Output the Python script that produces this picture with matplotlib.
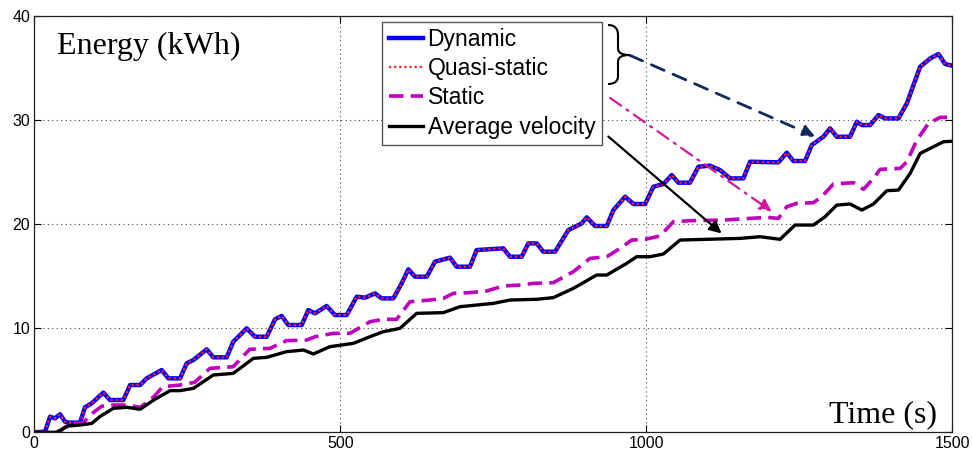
import matplotlib
matplotlib.use('Agg')
import matplotlib.pyplot as plt
from matplotlib.path import Path
from matplotlib.patches import PathPatch

# Energy (kWh) vs time (s)
dyn_t = [0, 17.5, 25.7, 33.8, 42.0, 50.2, 55.6, 74.7, 82.8, 93.7, 112.8, 123.7, 145.5,
         156.4, 172.7, 183.6, 208.1, 219.0, 238.1, 249.0, 259.9, 281.7, 292.5, 314.3,
         325.2, 347.0, 360.6, 379.7, 393.3, 404.2, 415.1, 436.9, 447.8, 458.7, 477.7,
         491.3, 510.4, 526.8, 540.4, 556.7, 567.6, 586.7, 600.3, 611.2, 622.1, 641.2,
         654.7, 679.3, 690.1, 711.9, 722.8, 766.4, 777.3, 796.4, 807.3, 820.9, 831.8,
         850.9, 872.7, 894.5, 902.7, 916.3, 935.4, 946.3, 965.4, 979.0, 998.1, 1011.6,
         1028.0, 1041.6, 1052.4, 1071.5, 1085.1, 1104.2, 1120.5, 1136.9, 1158.7, 1169.6,
         1215.9, 1229.5, 1240.4, 1259.5, 1270.4, 1289.4, 1300.3, 1311.3, 1333.0, 1344.0,
         1352.2, 1365.8, 1379.4, 1390.3, 1412.1, 1425.8, 1447.5, 1463.9, 1477.5, 1488.4,
         1500]
dyn_e = [0, 0.06, 1.50, 1.34, 1.73, 1.02, 0.93, 0.93, 2.40, 2.78, 3.81, 3.10, 3.10,
         4.54, 4.54, 5.18, 5.98, 5.18, 5.18, 6.62, 6.94, 7.97, 7.20, 7.20,
         8.70, 9.98, 9.18, 9.18, 10.85, 11.17, 10.30, 10.30, 11.74, 11.42, 12.13,
         11.26, 11.26, 13.02, 12.93, 13.34, 12.86, 12.86, 14.30, 15.65, 14.94, 14.94,
         16.38, 16.77, 15.90, 15.90, 17.50, 17.66, 16.86, 16.86, 18.14, 18.14, 17.34,
         17.34, 19.42, 20.06, 20.64, 19.81, 19.81, 21.34, 22.62, 21.92, 21.92, 23.58,
         23.84, 24.70, 23.97, 23.97, 25.50, 25.60, 25.18, 24.38, 24.38, 25.98,
         25.92, 26.85, 26.05, 26.05, 27.58, 28.38, 29.18, 28.38, 28.38, 29.82,
         29.50, 29.50, 30.46, 30.14, 30.14, 31.58, 35.10, 35.90, 36.32, 35.36,
         35.20]
# quasi-static lies on top of the dynamic curve
quasi_t = dyn_t
quasi_e = dyn_e

stat_t = [0, 30, 40, 50, 60, 80, 92, 110, 124, 150, 173, 195, 210, 238, 262, 287, 325,
          352, 385, 412, 445, 459, 488.6, 515.8, 548.5, 570.3, 592.1, 613.9, 646.6,
          668.4, 684.7, 711.9, 739.2, 766.4, 793.6, 815.4, 848.1, 880.8, 908.0, 935.4,
          957.2, 976.3, 998.1, 1022.5, 1044.3, 1071.5, 1126.0, 1169.6, 1196.9, 1215.9,
          1229.5, 1245.9, 1273.1, 1286.7, 1305.8, 1338.5, 1354.9, 1371.2, 1382.2,
          1414.9, 1425.8, 1442.1, 1461.1, 1480.2, 1500]
stat_e = [0, 0, -0.05, 0.5, 0.8, 0.9, 1.7, 2.5, 2.62, 2.62, 2.40, 3.4, 4.38, 4.54, 4.8,
          6.14, 6.30, 7.97, 8.06, 8.80, 8.86, 9.18, 9.50, 9.50, 10.62, 10.85, 10.85,
          12.54, 12.70, 12.86, 13.34, 13.41, 13.57, 14.05, 14.14, 14.30, 14.37, 15.42,
          16.70, 16.86, 17.66, 18.46, 18.53, 18.85, 20.22, 20.32, 20.38, 20.54, 20.64,
          20.54, 21.66, 21.98, 22.05, 22.62, 23.84, 23.97, 23.33, 24.38, 25.25,
          25.34, 25.98, 28.06, 29.66, 30.24, 30.24]

avg_t = [0, 36, 55, 75, 94, 107, 129, 151, 173, 195, 222, 238, 260, 292.5, 325, 358,
         380, 412, 440, 456, 483, 521.3, 548.5, 570.3, 597.5, 624.8, 668.4, 695.6,
         750.1, 777.3, 820.9, 848.1, 880.8, 918.9, 935.4, 967.9, 984.3, 1006.2,
         1028.0, 1055.2, 1098.7, 1153.3, 1186.0, 1218.6, 1243.1, 1273.1, 1292.2,
         1311.3, 1333.0, 1352.2, 1371.2, 1393.1, 1412.1, 1431.2, 1447.5, 1469.3,
         1485.7, 1500]
avg_e = [0, 0, 0.6, 0.7, 0.86, 1.50, 2.30, 2.40, 2.21, 3.10, 4.00, 4.00, 4.22, 5.50,
         5.66, 7.10, 7.20, 7.74, 7.90, 7.52, 8.22, 8.54, 9.18, 9.66, 9.98, 11.42,
         11.49, 12.06, 12.38, 12.70, 12.77, 12.93, 13.82, 15.10, 15.10, 16.22,
         16.86, 16.86, 17.12, 18.46, 18.53, 18.62, 18.78, 18.53, 19.90, 19.90,
         20.70, 21.82, 21.92, 21.34, 21.92, 23.20, 23.26, 24.86, 26.78, 27.42,
         27.90, 27.95]

fig = plt.figure(figsize=(9.72, 4.53), dpi=100)
ax = fig.add_axes([0.0353, 0.0457, 0.9444, 0.9196])

ax.plot(dyn_t, dyn_e, color='#0000ff', lw=3.2, label='Dynamic')
ax.plot(quasi_t, quasi_e, color='#ff2020', lw=1.6, ls=(0, (1, 1.3)), label='Quasi-static')
ax.plot(stat_t, stat_e, color='#bf00bf', lw=2.6, ls=(0, (4, 2)), label='Static')
ax.plot(avg_t, avg_e, color='black', lw=2.4, label='Average velocity')

ax.set_xlim(0, 1500)
ax.set_ylim(0, 40)
ax.set_xticks([0, 500, 1000, 1500])
ax.set_yticks([0, 10, 20, 30, 40])
ax.grid(True, color='#444444', ls=(0, (1, 3)), lw=0.8)
ax.tick_params(direction='in', top=True, right=True, length=5, width=0.8,
               labelsize=11.5, pad=3)
for lab in ax.get_xticklabels() + ax.get_yticklabels():
    lab.set_family('Liberation Sans')
for sp in ax.spines.values():
    sp.set_linewidth(0.9)
    sp.set_color('#222222')

ax.text(0.025, 0.908, 'Energy (kWh)', transform=ax.transAxes, family='Liberation Serif',
        fontsize=23, va='baseline', ha='left')
ax.text(0.983, 0.025, 'Time (s)', transform=ax.transAxes, family='Liberation Serif',
        fontsize=23, va='baseline', ha='right')

leg = ax.legend(loc='upper left', bbox_to_anchor=(0.379, 0.986), borderaxespad=0,
                prop={'family': 'Liberation Sans', 'size': 16.5}, fancybox=False,
                framealpha=1, edgecolor='#555555', handlelength=1.5,
                handletextpad=0.2, labelspacing=0.27, borderpad=0.28)
leg.get_frame().set_linewidth(1.0)

# arrows from the legend to the curves
ax.annotate('', xy=(1276, 28.4), xytext=(973, 36.2),
            arrowprops=dict(arrowstyle='-|>', color='#0f2a5c', lw=2.0,
                            ls=(0, (5, 3.5)), mutation_scale=18, shrinkA=0, shrinkB=0))
ax.annotate('', xy=(1205, 21.2), xytext=(941, 32.1),
            arrowprops=dict(arrowstyle='-|>', color='#d0189a', lw=1.6,
                            ls=(0, (6, 3, 1, 3)), mutation_scale=18, shrinkA=0, shrinkB=0))
ax.annotate('', xy=(1123, 19.1), xytext=(938, 28.4),
            arrowprops=dict(arrowstyle='-|>', color='black', lw=1.6,
                            mutation_scale=18, shrinkA=0, shrinkB=0))

# curly brace grouping Dynamic / Quasi-static
def fp(px, py):
    return (px / 972.0, 1 - py / 453.0)

verts = [fp(608, 25), fp(615, 25), fp(618, 29), fp(618, 35),
         fp(618, 48),
         fp(618, 53), fp(622, 55), fp(630, 55),
         fp(622, 55), fp(618, 57), fp(618, 62),
         fp(618, 76),
         fp(618, 81), fp(615, 84), fp(608, 84)]
codes = [Path.MOVETO, Path.CURVE4, Path.CURVE4, Path.CURVE4,
         Path.LINETO,
         Path.CURVE4, Path.CURVE4, Path.CURVE4,
         Path.CURVE4, Path.CURVE4, Path.CURVE4,
         Path.LINETO,
         Path.CURVE4, Path.CURVE4, Path.CURVE4]
fig.patches.append(PathPatch(Path(verts, codes), transform=fig.transFigure,
                             fill=False, lw=1.5, color='black'))

fig.savefig('out.png', dpi=100)
